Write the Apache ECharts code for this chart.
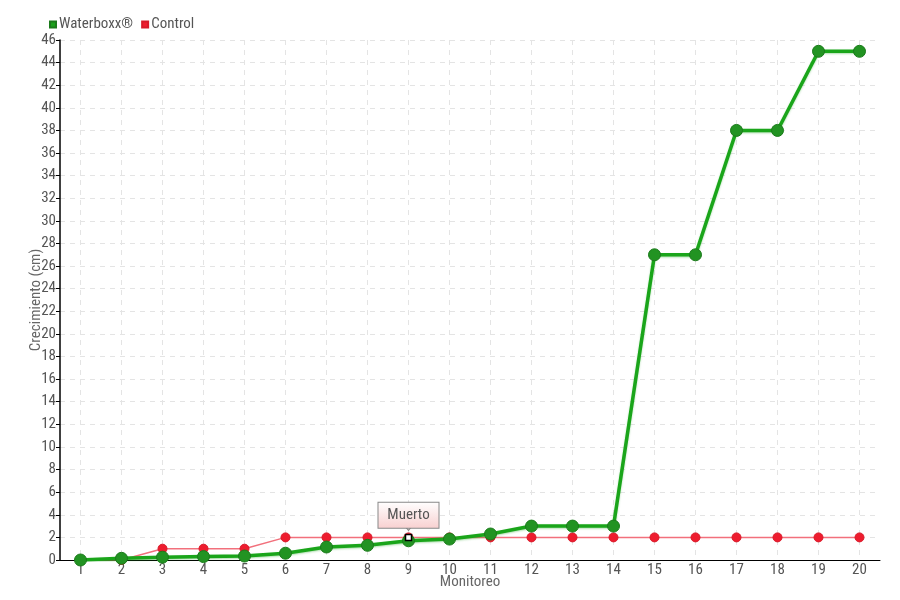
<!DOCTYPE html>
<html><head><meta charset="utf-8">
<script src="https://cdn.jsdelivr.net/npm/echarts@6/dist/echarts.min.js"></script>
<style>html,body{margin:0;padding:0;background:#fff}#c{width:900px;height:600px}</style>
</head><body><div id="c"></div>
<script>
const categories = ['1','2','3','4','5','6','7','8','9','10','11','12','13','14','15','16','17','18','19','20'];
const waterboxx = [0,0.15,0.25,0.3,0.35,0.6,1.15,1.3,1.7,1.85,2.3,3,3,3,27,27,38,38,45,45];
const control = [0,0,1,1,1,2,2,2,2,2,2,2,2,2,2,2,2,2,2,2];
const yTicks = {min:0, max:46, interval:2};
const annotation = {index:8, label:'Muerto'};

const FONT = '"Roboto Condensed","Liberation Sans Narrow","DejaVu Sans Condensed",sans-serif';
const chart = echarts.init(document.getElementById('c'), null, {renderer:'canvas'});
chart.setOption({
  animation:false,
  textStyle:{fontFamily:FONT},
  legend:{
    left:44, top:12, itemWidth:6, itemHeight:6, itemGap:8, icon:'rect',
    textStyle:{fontFamily:FONT, fontSize:15, color:'#555', padding:[0,0,0,-2]},
    data:[{name:'Waterboxx®', itemStyle:{color:'#1aa01a'}},{name:'Control', itemStyle:{color:'#ee1c2e'}}]
  },
  grid:{left:60, right:20, top:40, bottom:40, containLabel:false, outerBoundsMode:'none'},
  xAxis:{
    type:'category', data:categories, boundaryGap:true,
    name:'Monitoreo', nameLocation:'middle', nameGap:15, nameMoveOverlap:false,
    nameTextStyle:{fontFamily:FONT, fontSize:15, color:'#666'},
    axisLine:{lineStyle:{color:'#000', width:1}},
    axisTick:{alignWithLabel:true, length:4, lineStyle:{color:'#000'}},
    axisLabel:{fontFamily:FONT, fontSize:15, color:'#555', margin:3},
    splitLine:{show:true, alignWithLabel:true, lineStyle:{color:'#e4e4e4', type:[5,5]}}
  },
  yAxis:{
    type:'value', min:yTicks.min, max:yTicks.max, interval:yTicks.interval,
    name:'Crecimiento (cm)', nameLocation:'middle', nameGap:16, nameMoveOverlap:false,
    nameTextStyle:{fontFamily:FONT, fontSize:15, color:'#666'},
    axisLine:{show:true, lineStyle:{color:'#000', width:1.5}},
    axisTick:{show:true, inside:false, length:4, lineStyle:{color:'#000'}},
    axisLabel:{fontFamily:FONT, fontSize:15, color:'#555', margin:4},
    splitLine:{show:true, lineStyle:{color:'#e4e4e4', type:[5,5]}}
  },
  series:[
    {
      name:'Control', type:'line', data:control, z:2,
      symbol:'circle', symbolSize:9,
      lineStyle:{color:'#f2707c', width:1.5},
      itemStyle:{color:'#ee1c2e', borderColor:'#d81828', borderWidth:1},
      markPoint:{
        z:10,
        data:[
          {coord:[annotation.index, control[annotation.index]], symbol:'path://M0,0 L10,0 L5,6 Z', symbolSize:[10,6], symbolOffset:[0,-10],
           itemStyle:{color:'#fbe8e8', borderColor:'#888', borderWidth:1}, label:{show:false}},
          {coord:[annotation.index, control[annotation.index]], symbol:'rect', symbolSize:6,
           itemStyle:{color:'#fff', borderColor:'#000', borderWidth:1.5},
           label:{
             show:true, position:'top', distance:6,
             formatter:annotation.label,
             fontFamily:FONT, fontSize:15, color:'#555',
             width:40, align:'center',
             padding:[5,10,5,10],
             backgroundColor:{type:'linear',x:0,y:0,x2:0,y2:1,colorStops:[{offset:0,color:'#ffffff'},{offset:1,color:'#f8d0d0'}]},
             borderColor:'#888', borderWidth:1
           }}
        ]
      }
    },
    {
      name:'Waterboxx®', type:'line', data:waterboxx, z:3,
      symbol:'circle', symbolSize:12,
      lineStyle:{color:'#1aa51a', width:3.5, shadowColor:'rgba(26,160,26,0.35)', shadowBlur:2, shadowOffsetY:1},
      itemStyle:{color:'#229322', borderColor:'#1a7a1a', borderWidth:1}
    }
  ]
});
</script>
</body></html>
